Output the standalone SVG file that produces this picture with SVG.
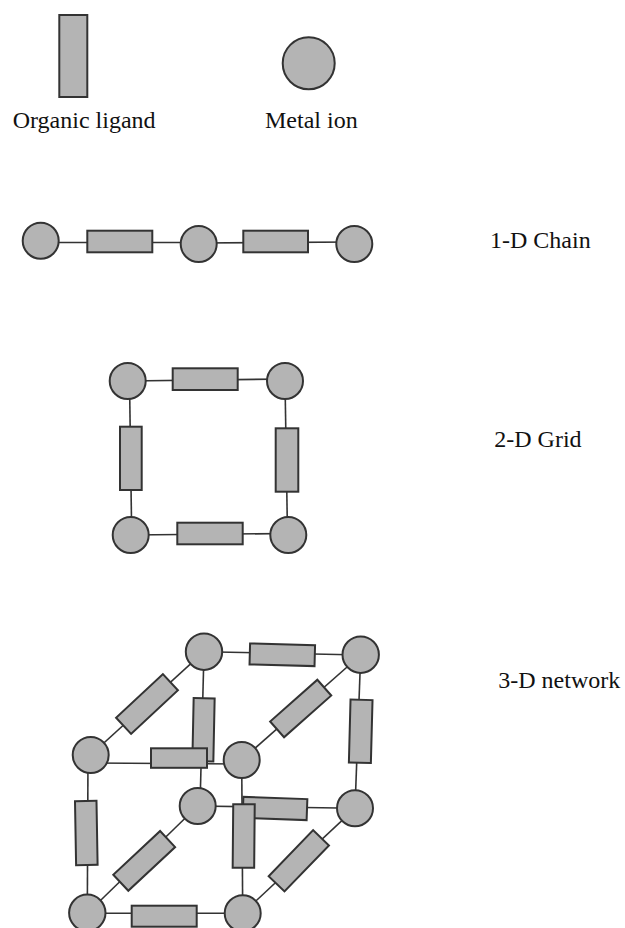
<svg xmlns="http://www.w3.org/2000/svg" width="625" height="928" viewBox="0 0 625 928">
<style>
.n{fill:#b4b4b4;stroke:#333;stroke-width:2}
.c line{stroke:#333;stroke-width:1.6}
text{font-family:"Liberation Serif","Times New Roman",serif;font-size:24px;fill:#111}
</style>
<rect width="625" height="928" fill="#fff"/>
<!-- legend -->
<g id="legend-ligand"><rect class="n" x="59.3" y="15" width="28" height="82"/></g>
<g id="legend-metal"><circle class="n" cx="308.7" cy="63.3" r="26"/></g>
<text x="12.7" y="128">Organic ligand</text>
<text x="265" y="128">Metal ion</text>
<!-- labels -->
<text x="490" y="248">1-D Chain</text>
<text x="494.3" y="446.7">2-D Grid</text>
<text x="498.3" y="688.3">3-D network</text>
<!-- connectors -->
<g id="connectors" class="c">
  <line x1="40.7" y1="242.5" x2="198.7" y2="242.5"/>
  <line x1="198.7" y1="243" x2="354.3" y2="242"/>
  <line x1="127.7" y1="381" x2="285" y2="379"/>
  <line x1="129.5" y1="381" x2="131.7" y2="535"/>
  <line x1="285" y1="381" x2="287.5" y2="535"/>
  <line x1="130.7" y1="535" x2="288.3" y2="533.5"/>
  <line x1="204" y1="651.7" x2="360.7" y2="655"/>
  <line x1="204" y1="651.7" x2="90.7" y2="755"/>
  <line x1="204" y1="651.7" x2="200" y2="806"/>
  <line x1="360.7" y1="655" x2="241.7" y2="760"/>
  <line x1="360.7" y1="655" x2="355" y2="808.3"/>
  <line x1="90.7" y1="763" x2="241.7" y2="764"/>
  <line x1="88" y1="755" x2="87.3" y2="913.3"/>
  <line x1="197.7" y1="806" x2="355" y2="808.3"/>
  <line x1="197.7" y1="806" x2="87.3" y2="913.3"/>
  <line x1="241.7" y1="760" x2="242.7" y2="913.3"/>
  <line x1="355" y1="808.3" x2="242.7" y2="913.3"/>
  <line x1="87.3" y1="913.3" x2="242.7" y2="913.3"/>
</g>
<!-- 1-D chain -->
<g id="chain-ligand-1"><rect class="n" x="87.3" y="230.7" width="65" height="21.6"/></g>
<g id="chain-ligand-2"><rect class="n" x="243.3" y="230.7" width="64.7" height="21.6"/></g>
<g id="chain-metal-1"><circle class="n" cx="40.7" cy="240.7" r="18"/></g>
<g id="chain-metal-2"><circle class="n" cx="198.7" cy="244" r="18"/></g>
<g id="chain-metal-3"><circle class="n" cx="354.3" cy="244" r="18"/></g>
<!-- 2-D grid -->
<g id="grid-ligand-top"><rect class="n" x="172.7" y="368.3" width="65" height="21.7"/></g>
<g id="grid-ligand-left"><rect class="n" x="120" y="426.7" width="21.7" height="63.3"/></g>
<g id="grid-ligand-right"><rect class="n" x="275.7" y="428.3" width="22.6" height="63.4"/></g>
<g id="grid-ligand-bottom"><rect class="n" x="177.3" y="522.7" width="65.4" height="21.6"/></g>
<g id="grid-metal-tl"><circle class="n" cx="127.7" cy="381" r="18"/></g>
<g id="grid-metal-tr"><circle class="n" cx="285" cy="381" r="18"/></g>
<g id="grid-metal-bl"><circle class="n" cx="130.7" cy="535" r="18"/></g>
<g id="grid-metal-br"><circle class="n" cx="288.3" cy="535" r="18"/></g>
<!-- 3-D network ligands -->
<g id="net-ligand-ab"><rect class="n" x="-32.5" y="-10.5" width="65" height="21" transform="translate(282.3 654.8) rotate(1.5)"/></g>
<g id="net-ligand-ac"><rect class="n" x="-32" y="-11" width="64" height="22" transform="translate(147 704) rotate(-43)"/></g>
<g id="net-ligand-bd"><rect class="n" x="-31.5" y="-10.5" width="63" height="21" transform="translate(300.7 708.5) rotate(-41.5)"/></g>
<g id="net-ligand-ae"><rect class="n" x="-10.5" y="-31.5" width="21" height="63" transform="translate(203.5 729.7) rotate(1.2)"/></g>
<g id="net-ligand-bf"><rect class="n" x="-11" y="-31.5" width="22" height="63" transform="translate(360.7 731.3) rotate(1.5)"/></g>
<g id="net-ligand-cd"><rect class="n" x="151" y="748.3" width="56" height="19.5"/></g>
<g id="net-ligand-ef"><rect class="n" x="-32" y="-10.5" width="64" height="21" transform="translate(275 808.5) rotate(2)"/></g>
<g id="net-ligand-dh"><rect class="n" x="-10.75" y="-31.75" width="21.5" height="63.5" transform="translate(243.7 836) rotate(0.5)"/></g>
<g id="net-ligand-cg"><rect class="n" x="-10.75" y="-32" width="21.5" height="64" transform="translate(86.3 833) rotate(-1)"/></g>
<g id="net-ligand-eg"><rect class="n" x="-32" y="-11" width="64" height="22" transform="translate(144.2 860.9) rotate(-43)"/></g>
<g id="net-ligand-fh"><rect class="n" x="-32" y="-11" width="64" height="22" transform="translate(298.8 860.8) rotate(-46)"/></g>
<g id="net-ligand-gh"><rect class="n" x="131.7" y="905.7" width="65" height="21"/></g>
<!-- 3-D network metals -->
<g id="net-metal-a"><circle class="n" cx="204" cy="651.7" r="18.2"/></g>
<g id="net-metal-b"><circle class="n" cx="360.7" cy="654.7" r="18.2"/></g>
<g id="net-metal-c"><circle class="n" cx="90.7" cy="755" r="18"/></g>
<g id="net-metal-d"><circle class="n" cx="241.7" cy="760" r="18"/></g>
<g id="net-metal-e"><circle class="n" cx="197.7" cy="806" r="18"/></g>
<g id="net-metal-f"><circle class="n" cx="355" cy="808.3" r="18"/></g>
<g id="net-metal-g"><circle class="n" cx="87.3" cy="912.8" r="18.2"/></g>
<g id="net-metal-h"><circle class="n" cx="242.7" cy="913.3" r="18"/></g>
</svg>
